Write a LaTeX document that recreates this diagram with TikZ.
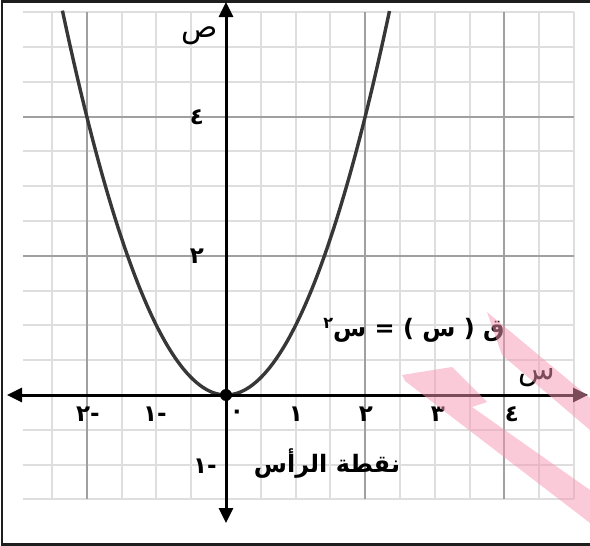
\documentclass[tikz,border=0pt]{standalone}
\usepackage{fontspec}
\usetikzlibrary{arrows.meta}
\TeXXeTstate=1
\newfontfamily\arabicfont[Script=Arabic]{DejaVu Sans}
\tikzset{
  minorgrid/.style={draw={rgb,255:red,222;green,222;blue,222}, line width=2pt},
  majorgrid/.style={draw={rgb,255:red,160;green,160;blue,160}, line width=2pt},
  axisline/.style={line width=3pt, {Triangle[width=14pt,length=15pt]}-{Triangle[width=14pt,length=15pt]}},
  digit/.style={font=\arabicfont\bfseries\fontsize{23}{23}\selectfont, inner sep=0pt},
  letter/.style={font=\arabicfont\bfseries\fontsize{24}{24}\selectfont, inner sep=0pt},
  axletter/.style={font=\arabicfont\fontsize{30}{30}\selectfont, inner sep=0pt},
  curvestyle/.style={draw={rgb,255:red,55;green,55;blue,55}, line width=3.4pt},
  water/.style={fill={rgb,255:red,247;green,150;blue,178}, fill opacity=0.5},
  frame/.style={line width=2.2pt, draw={rgb,255:red,30;green,30;blue,30}},
}
\begin{document}
\begin{tikzpicture}[x=1pt,y=-1pt]
\useasboundingbox (0,0) rectangle (590,546);
\clip (0,0) rectangle (590,546);
% frame (left, top, bottom)
\coordinate (ftr) at (591,1.5);
\coordinate (ftl) at (2,1.5);
\coordinate (fbl) at (2,544.5);
\coordinate (fbr) at (591,544.5);
\draw[frame] (ftr) -- (ftl) -- (fbl) -- (fbr);
% graph in math coordinates
\begin{scope}[shift={(226pt,-395pt)}, x=69.6pt, y=69.6pt]
  % minor grid
  \foreach \k in {-5,-3,-2,-1,1,2,3,5,6,7,9,10}
    \draw[minorgrid] (\k*0.5,-1.5) -- (\k*0.5,5.5);
  \foreach \k in {-3,-2,-1,1,2,3,5,6,7,9,10,11}
    \draw[minorgrid] (-2.917,\k*0.5) -- (5,\k*0.5);
  % major grid
  \foreach \k in {-2,2,4}
    \draw[majorgrid] (\k,-1.5) -- (\k,5.5);
  \foreach \k in {2,4}
    \draw[majorgrid] (-2.917,\k) -- (5,\k);
  % parabola
  \draw[curvestyle] plot[domain=-2.35:2.35, samples=80, smooth] (\x,{\x*\x});
\end{scope}
% axes
\coordinate (xl) at (7,395);
\coordinate (xr) at (588,395);
\coordinate (yt) at (226,2);
\coordinate (yb) at (226,523);
\draw[axisline] (xl) -- (xr);
\draw[axisline] (yb) -- (yt);
\node[circle, fill=black, minimum size=12pt, inner sep=0pt] (vertex) at (226,395) {};
% labels
\node[axletter] (ylab) at (200,36) {ص};
\node[axletter] (xlab) at (537,378) {س};
\node[digit] (y4) at (197,117) {٤};
\node[digit] (y2) at (197,256) {٢};
\node[digit] (xm2) at (88,414) {\mbox{٢}\mbox{-}};
\node[digit] (xm1) at (155,414) {\mbox{١}\mbox{-}};
\node[digit] (x0) at (237,414) {٠};
\node[digit] (x1) at (296,414) {١};
\node[digit] (x2) at (366,414) {٢};
\node[digit] (x3) at (438,414) {٣};
\node[digit] (x4) at (512,414) {٤};
\node[digit] (ym1) at (205,466) {\mbox{١}\mbox{-}};
\node[letter] (eq) at (414,330) {\beginR ق ( س ) = س\raisebox{8pt}{\fontsize{16}{16}\selectfont ٢}\endR};
\node[letter] (vlab) at (327,464) {\beginR نقطة الرأس\endR};
% watermark bands
\fill[water] (487,312) -- (590,398) -- (590,430) -- (502,355) -- cycle;
\fill[water] (402,375) -- (452,367) -- (487,402) -- (472,407) -- (590,490) -- (590,523) -- (405,381) -- cycle;
\end{tikzpicture}
\end{document}
